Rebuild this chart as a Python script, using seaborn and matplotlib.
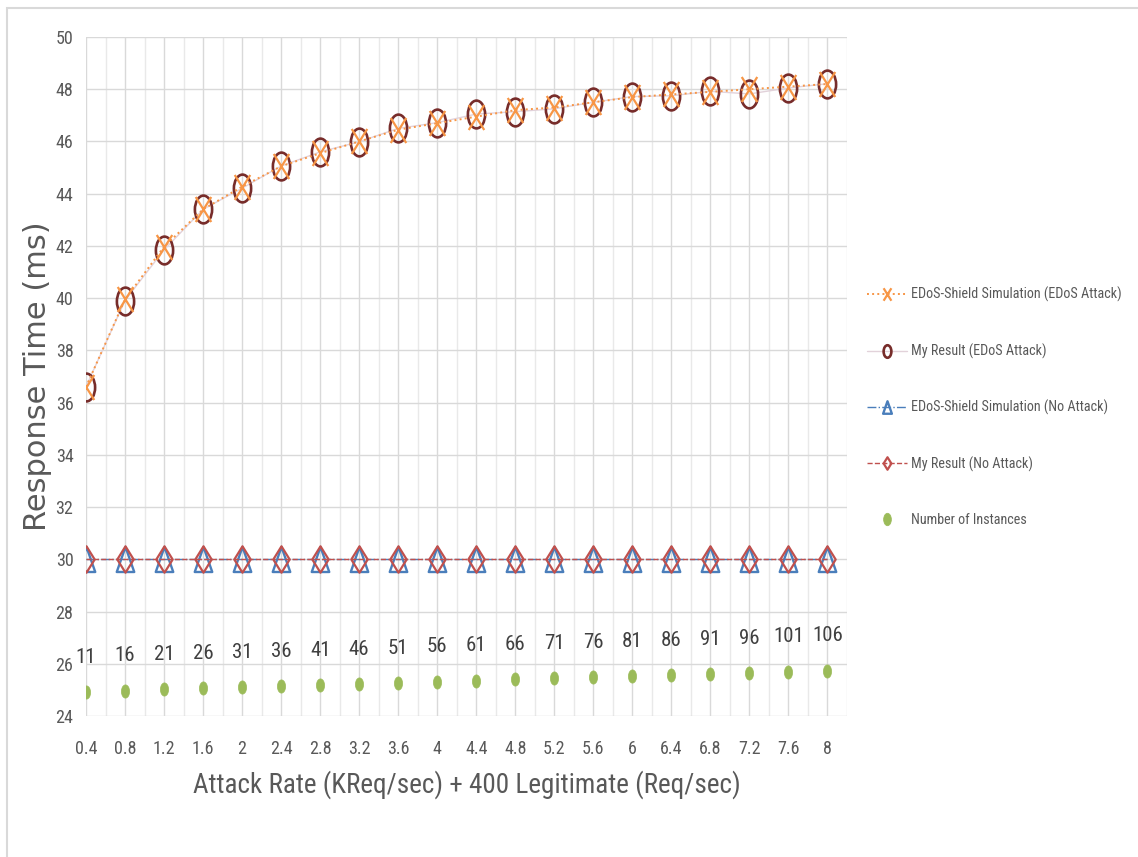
import numpy as np
import matplotlib
matplotlib.use("Agg")
import matplotlib.pyplot as plt
from matplotlib.path import Path
from matplotlib.patches import Rectangle
from matplotlib import font_manager as fm
import seaborn as sns

# ---- data -------------------------------------------------------------
attack_rates = ["0.4", "0.8", "1.2", "1.6", "2", "2.4", "2.8", "3.2", "3.6", "4",
                "4.4", "4.8", "5.2", "5.6", "6", "6.4", "6.8", "7.2", "7.6", "8"]
shield_attack = [36.60, 39.95, 41.97, 43.40, 44.27, 45.05, 45.55, 46.00, 46.45, 46.70,
                 46.95, 47.20, 47.30, 47.50, 47.70, 47.80, 47.90, 48.00, 48.10, 48.20]
mine_attack = [36.61, 39.91, 41.85, 43.40, 44.21, 45.06, 45.60, 45.99, 46.50, 46.72,
               47.05, 47.14, 47.25, 47.50, 47.72, 47.75, 47.92, 47.82, 48.05, 48.21]
shield_no_attack = [30.0] * 20
mine_no_attack = [30.0] * 20
instances = [11, 16, 21, 26, 31, 36, 41, 46, 51, 56,
             61, 66, 71, 76, 81, 86, 91, 96, 101, 106]

series_labels = ["EDoS-Shield Simulation (EDoS Attack)",
                 "My Result (EDoS Attack)",
                 "EDoS-Shield Simulation (No Attack)",
                 "My Result (No Attack)",
                 "Number of Instances"]

# ---- fonts ------------------------------------------------------------
def condensed_font():
    for fam in ["Liberation Sans Narrow", "Roboto Condensed", "Open Sans Condensed"]:
        try:
            fm.findfont(fm.FontProperties(family=fam), fallback_to_default=False)
            return dict(family=fam)
        except ValueError:
            pass
    p = fm.findfont(fm.FontProperties(family="DejaVu Sans", stretch="condensed"))
    if "Condensed" in p:
        return dict(family="DejaVu Sans", stretch="condensed")
    return dict(family="DejaVu Sans")

sns.set_theme(style="white")
plt.rcParams["font.family"] = ["DejaVu Sans"]
CF = condensed_font()
GREY = "#595959"

# ---- narrow markers (chart is drawn with a horizontally compressed look) ---
SX = 0.62

def squeeze(path, sx=SX):
    return Path(path.vertices * np.array([sx, 1.0]), path.codes)

ell_marker = squeeze(Path.unit_circle())
cross_marker = Path([(-SX, -1), (SX, 1), (-SX, 1), (SX, -1)],
                    [Path.MOVETO, Path.LINETO, Path.MOVETO, Path.LINETO])
tri_marker = Path([(0, 1), (-0.7, -1), (0.7, -1), (0, 1)],
                  [Path.MOVETO, Path.LINETO, Path.LINETO, Path.CLOSEPOLY])
dia_marker = Path([(0, 1), (-SX, 0), (0, -1), (SX, 0), (0, 1)],
                  [Path.MOVETO, Path.LINETO, Path.LINETO, Path.LINETO, Path.CLOSEPOLY])

# ---- figure -----------------------------------------------------------
fig = plt.figure(figsize=(11.38, 8.57), dpi=100)
W, H = 1138, 857
ax = fig.add_axes([86 / W, 1 - 716 / H, (847 - 86) / W, (716 - 37) / H])

xpos = np.arange(len(attack_rates))

sns.lineplot(x=xpos, y=shield_attack, ax=ax, color="#F79646", linestyle=":",
             linewidth=1.4, marker=cross_marker, markersize=18,
             markeredgewidth=1.6, markerfacecolor="none", markeredgecolor="#F79646",
             label=series_labels[0], zorder=4)
sns.lineplot(x=xpos, y=mine_attack, ax=ax, color="#E2D2DA", linestyle="-",
             linewidth=1.0, marker=ell_marker, markersize=20,
             markeredgewidth=1.9, markerfacecolor="none", markeredgecolor="#772C2A",
             label=series_labels[1], zorder=3)
sns.lineplot(x=xpos, y=shield_no_attack, ax=ax, color="#4A7EBB", linestyle="-.",
             linewidth=1.0, marker=tri_marker, markersize=18,
             markeredgewidth=1.7, markerfacecolor="none", markeredgecolor="#4A7EBB",
             label=series_labels[2], zorder=3)
sns.lineplot(x=xpos, y=mine_no_attack, ax=ax, color="#C0504D", linestyle="--",
             linewidth=1.0, marker=dia_marker, markersize=19,
             markeredgewidth=1.6, markerfacecolor="none", markeredgecolor="#C0504D",
             label=series_labels[3], zorder=4)

ax.set_ylim(24, 50)
ax.set_yticks(np.arange(24, 51, 2))
ax.set_xlim(0, len(attack_rates) - 0.5)
ax.set_xticks(xpos)
ax.set_xticklabels(attack_rates)
ax.set_xticks(np.arange(0.5, len(attack_rates), 1.0), minor=True)

ax.grid(True, which="major", axis="both", color="#D9D9D9", linewidth=1.0)
ax.grid(True, which="minor", axis="x", color="#E9E9E9", linewidth=1.0)
for s in ax.spines.values():
    s.set_visible(False)
ax.tick_params(axis="both", which="both", length=0, colors=GREY)
ax.tick_params(axis="x", pad=17)
ax.tick_params(axis="y", pad=9)
for t in ax.get_xticklabels() + ax.get_yticklabels():
    t.set_fontsize(13)
    t.set(**CF)

# instance counts on a hidden secondary scale
ax2 = ax.twinx()
sns.lineplot(x=xpos, y=instances, ax=ax2, linestyle="none",
             marker=ell_marker, markersize=9.5, markerfacecolor="#9BBB59",
             markeredgecolor="#9BBB59", markeredgewidth=0.5,
             label=series_labels[4])
ax2.set_ylim(-98, 2951)
ax2.set_yticks([])
ax2.set_ylabel("")
for s in ax2.spines.values():
    s.set_visible(False)
for xi, n in zip(xpos, instances):
    ax2.annotate(str(n), (xi, n), xytext=(0, 25), textcoords="offset points",
                 ha="center", va="center", fontsize=15, color="#404040", **CF)

ax.set_xlabel("Attack Rate (KReq/sec) + 400 Legitimate (Req/sec)",
              fontsize=19.5, color=GREY, **CF)
ax.xaxis.set_label_coords(0.5, -0.08)
ax.set_ylabel("Response Time (ms)", fontsize=22, color=GREY, family="DejaVu Sans")
ax.yaxis.set_label_coords(-0.045, 0.5)

# legend to the right of the plot area
h1, l1 = ax.get_legend_handles_labels()
h2, l2 = ax2.get_legend_handles_labels()
for a in (ax, ax2):
    if a.get_legend() is not None:
        a.get_legend().remove()
leg = fig.legend(h1 + h2, l1 + l2, loc="center left",
                 bbox_to_anchor=(867 / W, 1 - 407 / H), frameon=False,
                 borderpad=0, borderaxespad=0,
                 labelspacing=2.9, handlelength=2.8, handletextpad=0.3,
                 prop=fm.FontProperties(size=10.2, **CF))
for t in leg.get_texts():
    t.set_color(GREY)
for hnd in leg.legend_handles:
    hnd.set_markersize(9)

# chart-area border (only its top and left edges fall inside the image)
fig.patches.append(Rectangle((7 / W, -1.0), 2.0, 2.0 - 8 / H, transform=fig.transFigure,
                             fill=False, edgecolor="#D9D9D9", linewidth=1.5,
                             clip_on=False))

fig.savefig("out.png", dpi=100, facecolor="white")
